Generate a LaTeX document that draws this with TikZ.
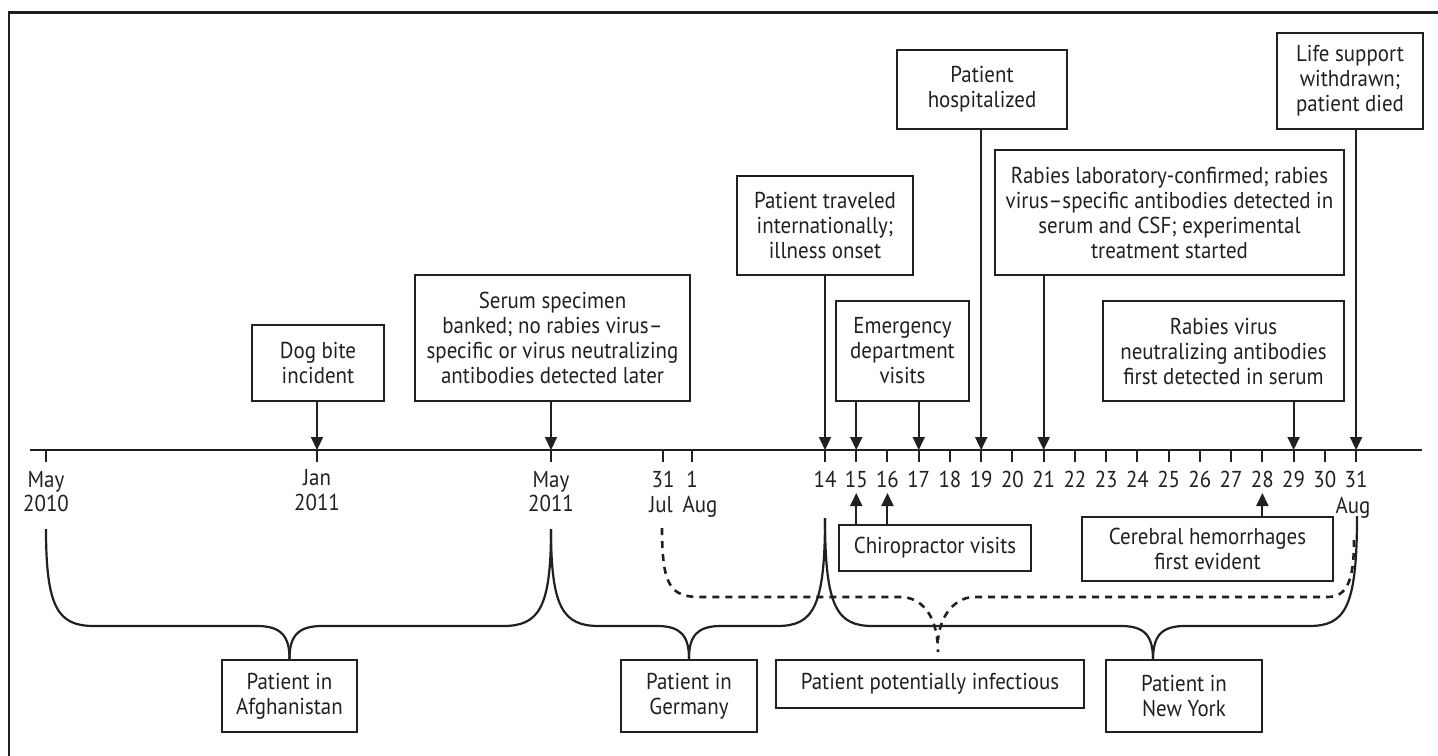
\documentclass[tikz,border=0pt]{standalone}
\usepackage{fontspec}
\setmainfont{PT Sans}[FakeStretch=0.91]
\usetikzlibrary{arrows.meta}
\definecolor{ink}{RGB}{35,31,32}
\begin{document}
\begin{tikzpicture}[x=0.5pt,y=-0.5pt,
  every node/.style={font=\fontsize{11.5}{12.5}\selectfont, text=ink},
  box/.style 2 args={draw=ink, line width=1.15pt, align=center, inner sep=0pt,
     minimum width=#1*0.5pt, minimum height=#2*0.5pt},
  arr/.style={draw=ink, line width=1pt, -{Triangle[length=6.5pt,width=6pt]}},
  axisline/.style={draw=ink, line width=1.35pt},
  tickline/.style={draw=ink, line width=1pt},
  brace/.style={draw=ink, line width=1.1pt},
  dbrace/.style={draw=ink, line width=1.3pt, dash pattern=on 3.5pt off 3pt},
  lbl/.style={anchor=base, inner sep=0pt},
]
\useasboundingbox (0,0) rectangle (1438,755);
% frame
\draw[draw=ink, line width=1.35pt] (9,770) -- (9,12.7) -- (1450,12.7);

% axis
\coordinate (axL) at (30,450);
\coordinate (axR) at (1422,450);
\draw[axisline] (axL) -- (axR);

\coordinate (tMayA) at (46,450);
\coordinate (tJan) at (317,450);
\coordinate (tMayB) at (551,450);
\coordinate (tJul) at (663,450);
\coordinate (tAug) at (692,450);
\foreach \d in {14,...,31} \coordinate (t\d) at ({825+31.24*(\d-14)},450);
\foreach \c in {tMayA,tJan,tMayB,tJul,tAug,t14,t15,t16,t17,t18,t19,t20,t21,t22,t23,t24,t25,t26,t27,t28,t29,t30,t31}
  \draw[tickline] (\c) -- ++(0,12);

% axis labels
\node[lbl] (lMayA) at (46,487) {May};
\node[lbl] (lYrA) at (46,511) {2010};
\node[lbl] (lJan) at (317,485) {Jan};
\node[lbl] (lYrB) at (317,510) {2011};
\node[lbl] (lMayB) at (551,487) {May};
\node[lbl] (lYrC) at (551,511) {2011};
\node[lbl] (l31J) at (663,487) {31};
\node[lbl] (l1A) at (692,487) {1};
\node[lbl] (lJul) at (661,512) {Jul};
\node[lbl] (lAugA) at (700,512) {Aug};
\foreach \d in {14,...,31} \node[lbl] (l\d) at ({825+31.24*(\d-14)},487) {\d};
\node[lbl] (lAugB) at (1353,513) {Aug};

% top boxes
\node[box={132}{76}] (dog) at (318,363) {Dog bite\\incident};
\node[box={275}{126}] (serum) at (552.5,338) {Serum specimen\\banked; no rabies virus–\\specific or virus neutralizing\\antibodies detected later};
\node[box={176}{99}] (travel) at (825,225.5) {Patient traveled\\internationally;\\illness onset};
\node[box={133}{100}] (emerg) at (902.5,351) {Emergency\\department\\visits};
\node[box={170}{79}] (hosp) at (982,89.5) {Patient\\hospitalized};
\node[box={349}{125}] (lab) at (1169.5,212.5) {Rabies laboratory-confirmed; rabies\\virus–specific antibodies detected in\\serum and CSF; experimental\\treatment started};
\node[box={241}{100}] (neut) at (1223.5,351) {Rabies virus\\neutralizing antibodies\\first detected in serum};
\node[box={146}{96}] (life) at (1350,81) {Life support\\withdrawn;\\patient died};

% down arrows
\draw[arr] (dog.south -| tJan) -- (tJan);
\draw[arr] (serum.south -| tMayB) -- (tMayB);
\draw[arr] (travel.south -| t14) -- (t14);
\draw[arr] (emerg.south -| t15) -- (t15);
\draw[arr] (emerg.south -| t17) -- (t17);
\draw[arr] (hosp.south -| t19) -- (t19);
\draw[arr] (lab.south -| t21) -- (t21);
\draw[arr] (neut.south -| t29) -- (t29);
\draw[arr] (life.south -| t31) -- (t31);

% lower boxes
\node[box={192}{46}] (chiro) at (935,548) {Chiropractor visits};
\node[box={251}{64}] (cereb) at (1207.5,549) {Cerebral hemorrhages\\first evident};
\path (t15) ++(0,43) coordinate (u15);
\path (t16) ++(0,43) coordinate (u16);
\path (t28) ++(0,43) coordinate (u28);
\draw[arr] (chiro.north -| u15) -- (u15);
\draw[arr] (chiro.north -| u16) -- (u16);
\draw[arr] (cereb.north -| u28) -- (u28);

\node[box={135}{72}] (afgh) at (289.5,696) {Patient in\\Afghanistan};
\node[box={136}{72}] (germ) at (689,696) {Patient in\\Germany};
\node[box={308}{48}] (infect) at (930,684) {Patient potentially infectious};
\node[box={156}{72}] (ny) at (1184,696) {Patient in\\New York};

% braces
\draw[brace] (46,529) .. controls (46,608) and (58,626) .. (94,626) -- (257,626) .. controls (281,626) and (289.5,636) .. (afgh.north);
\draw[brace] (551,529) .. controls (551,608) and (539,626) .. (503,626) -- (322,626) .. controls (298,626) and (289.5,636) .. (afgh.north);
\draw[brace] (551,529) .. controls (551,608) and (563,626) .. (599,626) -- (657,626) .. controls (681,626) and (689,636) .. (germ.north);
\draw[brace] (825,518) .. controls (825,608) and (813,626) .. (777,626) -- (721,626) .. controls (697,626) and (689,636) .. (germ.north);
\coordinate (nytip) at (1153,660);
\draw[brace] (825,518) .. controls (825,608) and (837,626) .. (873,626) -- (1121,626) .. controls (1145,626) and (1153,636) .. (nytip);
\draw[brace] (1357,516) .. controls (1357,608) and (1345,626) .. (1309,626) -- (1185,626) .. controls (1161,626) and (1153,636) .. (nytip);
% dotted brace
\coordinate (dtip) at (938,652);
\draw[dbrace] (662,528) .. controls (662,585) and (670,597) .. (700,597) -- (903,597) .. controls (925,599) and (938,620) .. (dtip);
\draw[dbrace] (1354,540) .. controls (1354,585) and (1345,597) .. (1327,597) -- (973,597) .. controls (955,598) and (940,615) .. (938,640);
\end{tikzpicture}
\end{document}
